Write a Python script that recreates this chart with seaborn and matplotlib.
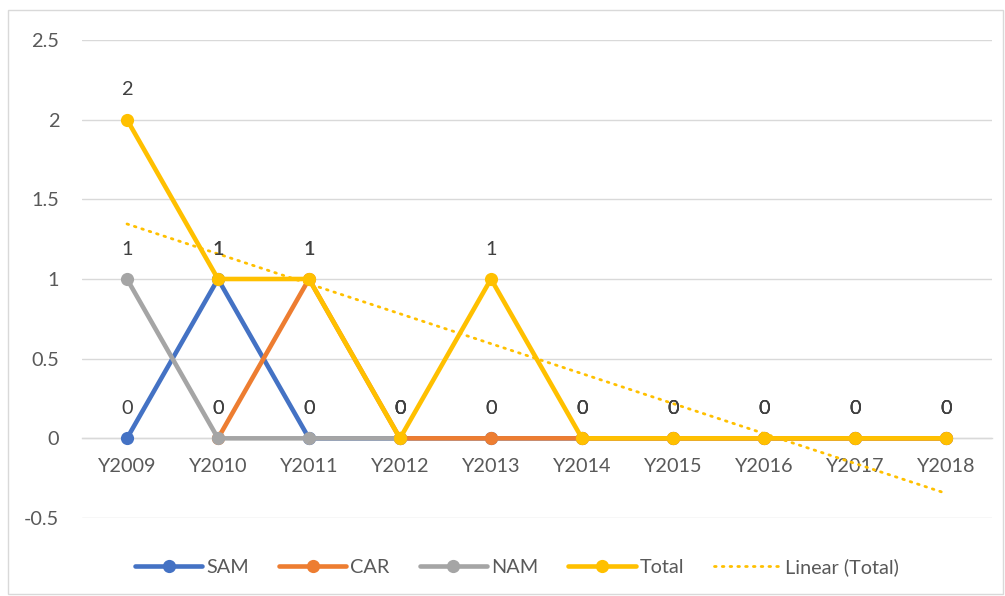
import numpy as np
import pandas as pd
import matplotlib
matplotlib.use("Agg")
import matplotlib.pyplot as plt
from matplotlib.patches import Rectangle
from matplotlib.lines import Line2D
import seaborn as sns

years = ["Y2009", "Y2010", "Y2011", "Y2012", "Y2013", "Y2014", "Y2015", "Y2016", "Y2017", "Y2018"]
sam = [0, 1, 0, 0, 0, 0, 0, 0, 0, 0]
car = [np.nan, 0, 1, 0, 0, 0, 0, 0, 0, 0]
nam = [1, 0, 0, 0, np.nan, np.nan, np.nan, np.nan, np.nan, np.nan]
total = [2, 1, 1, 0, 1, 0, 0, 0, 0, 0]
yticks = [-0.5, 0, 0.5, 1, 1.5, 2, 2.5]

series = [("SAM", sam, "#4472C4"), ("CAR", car, "#ED7D31"),
          ("NAM", nam, "#A5A5A5"), ("Total", total, "#FFC000")]

sns.set_style("white")
plt.rcParams["font.family"] = ["Lato", "DejaVu Sans"]
FS = 14.3

fig = plt.figure(figsize=(10.05, 5.96), dpi=100)
W, H = 1005, 596
ax = fig.add_axes([81.5 / W, 1 - 518 / H, (991.5 - 81.5) / W, (518 - 40) / H])

x = np.arange(len(years))
for name, vals, col in series:
    df = pd.DataFrame({"x": x, "y": vals}).dropna()
    sns.lineplot(data=df, x="x", y="y", ax=ax, color=col, lw=3.3, marker="o",
                 markersize=9.5, markeredgewidth=0, zorder=3, legend=False)
    for xi, yi in zip(df["x"], df["y"]):
        ax.annotate(f"{yi:g}", (xi, yi), xytext=(0, 21.5), textcoords="offset points",
                    ha="center", va="center", fontsize=FS, color="#404040", zorder=5)

# linear trend of Total
coef = np.polyfit(x, np.array(total, dtype=float), 1)
trend = np.polyval(coef, x)
sns.lineplot(x=x, y=trend, ax=ax, color="#FFC000", lw=2.0, zorder=4,
             linestyle=(0, (0.6, 2.2)), dash_capstyle="round", legend=False)

ax.set_xlim(-0.5, len(years) - 0.5)
ax.set_ylim(-0.5, 2.5)
ax.set_yticks(yticks)
ax.set_yticklabels([f"{t:g}" for t in yticks])
ax.set_xticks(x)
ax.set_xticklabels(years)
ax.set_xlabel("")
ax.set_ylabel("")
ax.grid(axis="y", color="#D9D9D9", lw=1.0, zorder=0)
ax.grid(axis="x", visible=False)
for s in ["top", "right", "left"]:
    ax.spines[s].set_visible(False)
ax.spines["bottom"].set_position(("data", 0))
ax.spines["bottom"].set_color("#D9D9D9")
ax.spines["bottom"].set_linewidth(1.0)
ax.spines["bottom"].set_zorder(1)
ax.tick_params(axis="x", length=0, pad=14, labelsize=FS, labelcolor="#595959")
ax.tick_params(axis="y", length=0, pad=16, labelsize=FS, labelcolor="#595959")

handles = [Line2D([], [], color=c, lw=3.3, marker="o", markersize=9.5, markeredgewidth=0)
           for _, _, c in series]
handles.append(Line2D([], [], color="#FFC000", lw=2.0, linestyle=(0, (0.6, 2.2)),
                      dash_capstyle="round"))
labels = [n for n, _, _ in series] + ["Linear (Total)"]
fig.legend(handles, labels, loc="center", bbox_to_anchor=(517 / W, 1 - 567 / H), ncol=5,
           frameon=False, fontsize=FS, labelcolor="#595959", handlelength=3.4,
           handletextpad=0.2, columnspacing=1.5, borderpad=0)

fig.patches.append(Rectangle((8 / W, 1 - 594 / H), (1003 - 8) / W, (594 - 10) / H,
                             transform=fig.transFigure, fill=False, ec="#D9D9D9", lw=1.0))

fig.savefig("out.png", dpi=100)
